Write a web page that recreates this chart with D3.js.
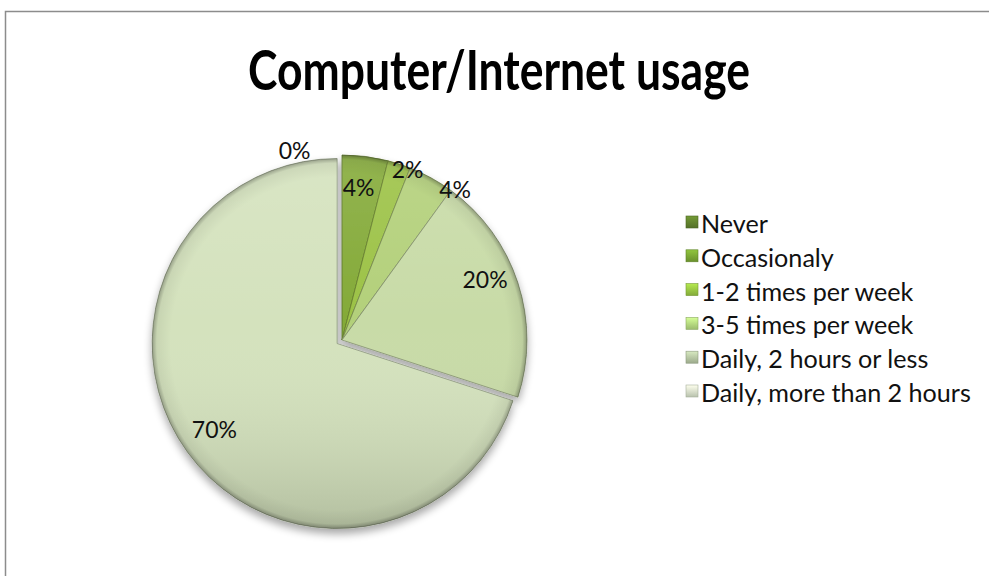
<!DOCTYPE html>
<html>
<head>
<meta charset="utf-8">
<script src="https://cdn.jsdelivr.net/npm/d3@7"></script>
<style>
  body { margin: 0; background: #fff; }
  svg { display: block; font-family: Lato, "Open Sans", sans-serif; }
</style>
</head>
<body>
<svg id="chart" width="989" height="576"></svg>
<script>
// data
let categories = ["Never", "Occasionaly", "1-2 times per week", "3-5 times per week",
	"Daily, 2 hours or less", "Daily, more than 2 hours"];
let values = [0, 4, 2, 4, 20, 70];
let sliceColors = ["#5f7f26", "#84aa38", "#9cc246", "#b3d07a", "#c8dba7", "#d4e2bd"];
let legendColors = ["#5e7d2c", "#75a032", "#92bd40", "#add07a", "#aebd9c", "#cdd8c0"];

// label placement (radius factor, angle nudge in degrees)
let labelR = [1.06, 0.83, 0.99, 1.02, 0.84, 0.81];
let labelNudge = [-14, -1, 3, 8, -5, 1];

let svg = d3.select("#chart");
let width = +svg.attr("width");
let height = +svg.attr("height");

// chart frame
svg.append("rect").attr("x", 5.5).attr("y", 11.5)
	.attr("width", width + 10).attr("height", height + 10)
	.attr("fill", "#fff").attr("stroke", "#8c8c8c").attr("stroke-width", 1.5);

// title: fit width, then stretch to the taller glyphs of the original
let title = svg.append("text")
	.attr("text-anchor", "middle")
	.attr("font-weight", "bold")
	.attr("font-size", 40)
	.text("Computer/Internet usage");
let tw = title.node().getComputedTextLength();
let tfs = 40 * 502 / tw;
title.attr("font-size", tfs)
	.attr("transform", `translate(499,90) scale(1,${40 / (0.72 * tfs)})`);

let defs = svg.append("defs");

let shadow = defs.append("filter").attr("id", "shadow")
	.attr("x", "-20%").attr("y", "-20%").attr("width", "140%").attr("height", "140%");
shadow.append("feGaussianBlur").attr("in", "SourceAlpha").attr("stdDeviation", 4);
shadow.append("feOffset").attr("dx", 0).attr("dy", 5);
shadow.append("feComponentTransfer").append("feFuncA").attr("type", "linear").attr("slope", 0.35);
let merge = shadow.append("feMerge");
merge.append("feMergeNode");
merge.append("feMergeNode").attr("in", "SourceGraphic");

let cx = 342, cy = 340, R = 185;

let shade = defs.append("linearGradient").attr("id", "shade")
	.attr("gradientUnits", "userSpaceOnUse")
	.attr("x1", 0).attr("y1", -R).attr("x2", 0).attr("y2", R);
shade.append("stop").attr("offset", 0).attr("stop-color", "#fff").attr("stop-opacity", 0.12);
shade.append("stop").attr("offset", 0.45).attr("stop-color", "#fff").attr("stop-opacity", 0);
shade.append("stop").attr("offset", 1).attr("stop-color", "#000").attr("stop-opacity", 0.16);

let rim = defs.append("radialGradient").attr("id", "rim")
	.attr("gradientUnits", "userSpaceOnUse")
	.attr("cx", 0).attr("cy", 0).attr("r", R);
rim.append("stop").attr("offset", 0.9).attr("stop-color", "#000").attr("stop-opacity", 0);
rim.append("stop").attr("offset", 0.975).attr("stop-color", "#000").attr("stop-opacity", 0.06);
rim.append("stop").attr("offset", 1).attr("stop-color", "#000").attr("stop-opacity", 0.3);

let pie = d3.pie().sort(null).value(d => d)(values);
let arc = d3.arc().innerRadius(0).outerRadius(R);

let explode = i => i === values.length - 1 ? 6 : 0;
let offset = d => {
	let a = (d.startAngle + d.endAngle) / 2;
	let e = explode(d.index);
	return [Math.sin(a) * e, -Math.cos(a) * e];
};

let g = svg.append("g").attr("transform", `translate(${cx},${cy})`);
let pieG = g.append("g").attr("filter", "url(#shadow)");

let slices = pieG.selectAll(".slice").data(pie).enter().append("g")
	.attr("class", "slice")
	.attr("transform", d => `translate(${offset(d)})`);

slices.append("path").attr("d", arc)
	.attr("fill", (d, i) => sliceColors[i])
	.attr("stroke", (d, i) => d3.color(sliceColors[i]).darker(1.2))
	.attr("stroke-width", d => d.value > 0 ? 1 : 0)
	.attr("stroke-opacity", 0.8);
slices.append("path").attr("d", arc).attr("fill", "url(#shade)");
slices.append("path").attr("d", arc).attr("fill", "url(#rim)");

// labels
let pct = d3.format(".0%");
let total = d3.sum(values);
let labelPos = d => {
	let a = (d.startAngle + d.endAngle) / 2 + labelNudge[d.index] * Math.PI / 180;
	let o = offset(d);
	return [Math.sin(a) * R * labelR[d.index] + o[0], -Math.cos(a) * R * labelR[d.index] + o[1]];
};
g.selectAll(".lbl").data(pie).enter().append("text")
	.attr("class", "lbl")
	.attr("font-size", 23)
	.attr("fill", "#111")
	.attr("text-anchor", "middle")
	.attr("dominant-baseline", "central")
	.attr("x", d => labelPos(d)[0])
	.attr("y", d => labelPos(d)[1])
	.text(d => pct(d.value / total));

// legend
let ly = d3.scalePoint().domain(categories).range([222, 391]);
let legend = svg.append("g").selectAll("g").data(categories).enter().append("g")
	.attr("transform", d => `translate(686,${ly(d)})`);

legendColors.forEach((c, i) => {
	let lg = defs.append("linearGradient").attr("id", "lg" + i)
		.attr("x1", 0).attr("y1", 0).attr("x2", 0).attr("y2", 1);
	lg.append("stop").attr("offset", 0).attr("stop-color", d3.color(c).brighter(0.6));
	lg.append("stop").attr("offset", 1).attr("stop-color", d3.color(c).darker(0.3));
});
legend.append("rect").attr("x", 0).attr("y", -6).attr("width", 12).attr("height", 12)
	.attr("fill", (d, i) => `url(#lg${i})`)
	.attr("stroke", (d, i) => d3.color(legendColors[i]).darker(0.6))
	.attr("stroke-width", 0.6);
let ltext = legend.append("text").attr("x", 15).attr("y", 1)
	.attr("dominant-baseline", "central")
	.attr("font-size", 22).attr("fill", "#111")
	.text(d => d);
let lw = d3.max(ltext.nodes(), n => n.getComputedTextLength());
ltext.attr("font-size", 22 * 270 / lw);
</script>
</body>
</html>
